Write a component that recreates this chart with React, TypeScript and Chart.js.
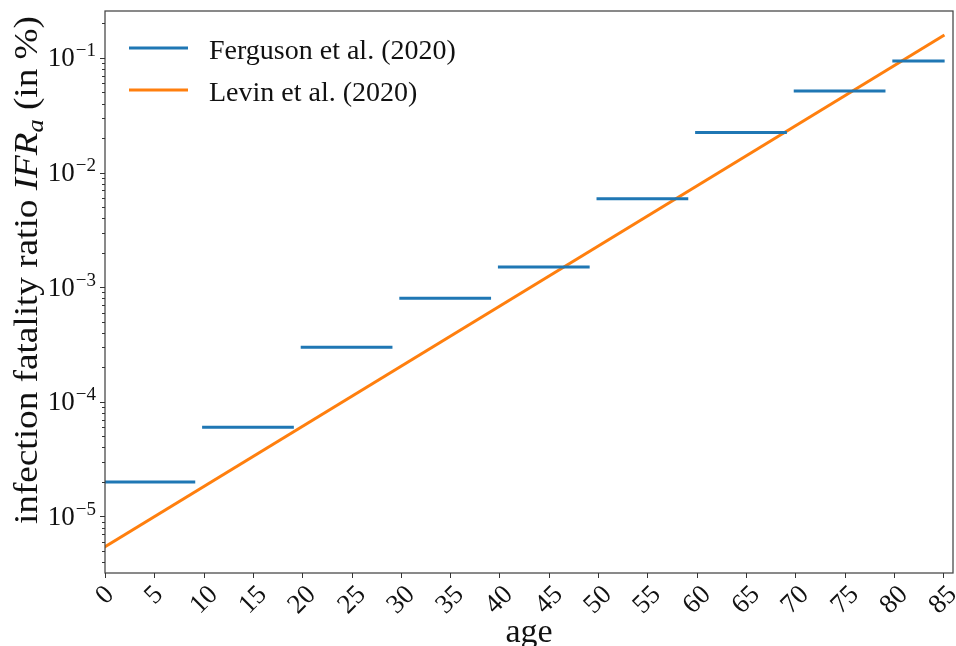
import React, { useEffect, useRef } from "react";
import { Chart, registerables } from "chart.js";

Chart.register(...registerables);

// ---- data ----
const ageGroupStart = [0, 10, 20, 30, 40, 50, 60, 70, 80];
const ageGroupEnd = [9, 19, 29, 39, 49, 59, 69, 79, 85];
const fergusonIFR = [2.0e-5, 6.0e-5, 3.0e-4, 8.0e-4, 1.5e-3, 5.9e-3, 2.24e-2, 5.15e-2, 9.4e-2];
const levinAge = [0, 85];
const levinIFR = [5.45e-6, 1.56e-1];
const xTickValues = [0, 5, 10, 15, 20, 25, 30, 35, 40, 45, 50, 55, 60, 65, 70, 75, 80, 85];
const yMajorExponents = [-5, -4, -3, -2, -1];
const seriesNames = ["Ferguson et al. (2020)", "Levin et al. (2020)"];
const seriesColors = ["#1f77b4", "#ff7f0e"];

const X_MIN = 0;
const X_MAX = 86;
const Y_MIN = 3.21e-6;
const Y_MAX = 2.57e-1;

const SERIF = '"Liberation Serif", "DejaVu Serif", serif';
const SUP: Record<string, string> = { "-": "\u2212" };

function buildFergusonData() {
  const pts: { x: number; y: number | null }[] = [];
  ageGroupStart.forEach((s, i) => {
    pts.push({ x: s, y: fergusonIFR[i] });
    pts.push({ x: ageGroupEnd[i], y: fergusonIFR[i] });
    if (i < ageGroupStart.length - 1) pts.push({ x: ageGroupEnd[i] + 0.5, y: null });
  });
  return pts;
}

const decorPlugin = {
  id: "decor",
  afterDraw(chart: any) {
    const ctx: CanvasRenderingContext2D = chart.ctx;
    const area = chart.chartArea;
    const xs = chart.scales.x;
    const ys = chart.scales.y;
    ctx.save();

    // frame
    ctx.strokeStyle = "#444";
    ctx.lineWidth = 1.25;
    ctx.strokeRect(area.left, area.top, area.right - area.left, area.bottom - area.top);

    // x ticks
    ctx.lineWidth = 1;
    ctx.strokeStyle = "#333";
    ctx.fillStyle = "#111";
    ctx.font = `27px ${SERIF}`;
    xTickValues.forEach((v) => {
      const px = Math.round(xs.getPixelForValue(v)) + 0.5;
      ctx.beginPath();
      ctx.moveTo(px, area.bottom);
      ctx.lineTo(px, area.bottom + 5);
      ctx.stroke();
      const label = String(v);
      const w = ctx.measureText(label).width;
      const h = 18;
      const bboxH = (w + h) * Math.SQRT1_2;
      const cx = px - 1.5;
      const cy = area.bottom + 10 + bboxH / 2;
      ctx.save();
      ctx.translate(cx, cy);
      ctx.rotate(-Math.PI / 4);
      ctx.textAlign = "center";
      ctx.textBaseline = "alphabetic";
      ctx.fillText(label, 0, h / 2);
      ctx.restore();
    });

    // y ticks (major + minor)
    for (let e = -6; e <= 0; e++) {
      for (let k = 1; k <= 9; k++) {
        const v = k * Math.pow(10, e);
        if (v < Y_MIN || v > Y_MAX) continue;
        const py = Math.round(ys.getPixelForValue(v)) + 0.5;
        const len = k === 1 ? 5 : 3;
        ctx.beginPath();
        ctx.moveTo(area.left, py);
        ctx.lineTo(area.left - len, py);
        ctx.stroke();
      }
    }
    yMajorExponents.forEach((e) => {
      const py = ys.getPixelForValue(Math.pow(10, e));
      const expStr = String(e).split("").map((c) => SUP[c] || c).join("");
      ctx.font = `27px ${SERIF}`;
      const wBase = ctx.measureText("10").width;
      ctx.font = `19px ${SERIF}`;
      const wExp = ctx.measureText(expStr).width;
      const right = area.left - 9;
      const x0 = right - wExp - wBase - 1;
      ctx.textAlign = "left";
      ctx.textBaseline = "alphabetic";
      ctx.font = `27px ${SERIF}`;
      ctx.fillText("10", x0, py + 8.5);
      ctx.font = `19px ${SERIF}`;
      ctx.fillText(expStr, x0 + wBase + 1, py - 1.5);
    });

    // x title
    ctx.font = `34px ${SERIF}`;
    ctx.textAlign = "center";
    ctx.textBaseline = "alphabetic";
    ctx.fillText("age", (area.left + area.right) / 2, 642);

    // y title with italic IFR_a
    const segs = [
      { t: "infection fatality ratio ", font: `34px ${SERIF}`, dy: 0 },
      { t: "IFR", font: `italic 34px ${SERIF}`, dy: 0 },
      { t: "a", font: `italic 24px ${SERIF}`, dy: 6 },
      { t: " (in %)", font: `34px ${SERIF}`, dy: 0 },
    ];
    let total = 0;
    segs.forEach((s) => {
      ctx.font = s.font;
      total += ctx.measureText(s.t).width;
    });
    const targetLen = 508;
    const sx = targetLen / total;
    ctx.save();
    ctx.translate(37, 270);
    ctx.rotate(-Math.PI / 2);
    ctx.scale(sx, 1);
    ctx.textAlign = "left";
    let cur = -total / 2;
    segs.forEach((s) => {
      ctx.font = s.font;
      ctx.fillText(s.t, cur, s.dy);
      cur += ctx.measureText(s.t).width;
    });
    ctx.restore();

    // legend
    const legendY = [48, 90];
    seriesNames.forEach((name, i) => {
      ctx.strokeStyle = seriesColors[i];
      ctx.lineWidth = 3;
      ctx.lineCap = "butt";
      ctx.beginPath();
      ctx.moveTo(129, legendY[i]);
      ctx.lineTo(188, legendY[i]);
      ctx.stroke();
      ctx.fillStyle = "#111";
      ctx.font = `28px ${SERIF}`;
      ctx.textAlign = "left";
      ctx.fillText(name, 209, legendY[i] + 10.5);
    });

    ctx.restore();
  },
};

export default function App() {
  const canvasRef = useRef<HTMLCanvasElement | null>(null);

  useEffect(() => {
    if (!canvasRef.current) return;
    const chart = new Chart(canvasRef.current, {
      type: "line",
      data: {
        datasets: [
          {
            label: seriesNames[0],
            data: buildFergusonData() as any,
            borderColor: seriesColors[0],
            borderWidth: 3,
            pointRadius: 0,
            spanGaps: false,
            borderCapStyle: "square",
            tension: 0,
          },
          {
            label: seriesNames[1],
            data: levinAge.map((a, i) => ({ x: a, y: levinIFR[i] })) as any,
            borderColor: seriesColors[1],
            borderWidth: 3,
            pointRadius: 0,
            borderCapStyle: "square",
            tension: 0,
          },
        ],
      },
      options: {
        animation: false,
        responsive: false,
        layout: { padding: { left: 105, right: 3, top: 11, bottom: 73 } },
        plugins: {
          legend: { display: false },
          tooltip: { enabled: false },
        },
        scales: {
          x: { type: "linear", min: X_MIN, max: X_MAX, display: false },
          y: { type: "logarithmic", min: Y_MIN, max: Y_MAX, display: false },
        },
      },
      plugins: [decorPlugin],
    });
    return () => chart.destroy();
  }, []);

  return (
    <div style={{ position: "fixed", left: 0, top: 0, width: 956, height: 646, background: "#fff" }}>
      <canvas ref={canvasRef} width={956} height={646} style={{ display: "block" }} />
    </div>
  );
}
